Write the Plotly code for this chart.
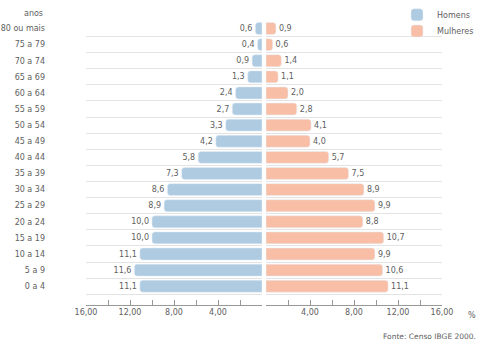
import plotly.graph_objects as go

# bottom to top
categories = ["0 a 4", "5 a 9", "10 a 14", "15 a 19", "20 a 24", "25 a 29", "30 a 34",
              "35 a 39", "40 a 44", "45 a 49", "50 a 54", "55 a 59", "60 a 64", "65 a 69",
              "70 a 74", "75 a 79", "80 ou mais"]
homens = [11.1, 11.6, 11.1, 10.0, 10.0, 8.9, 8.6, 7.3, 5.8, 4.2, 3.3, 2.7, 2.4, 1.3, 0.9, 0.4, 0.6]
mulheres = [11.1, 10.6, 9.9, 10.7, 8.8, 9.9, 8.9, 7.5, 5.7, 4.0, 4.1, 2.8, 2.0, 1.1, 1.4, 0.6, 0.9]
x_ticks = [0, 2, 4, 6, 8, 10, 12, 14, 16]
x_ticktext = ["", "", "4,00", "", "8,00", "", "12,00", "", "16,00"]

pos = list(range(len(categories)))
W, H = 480, 340
FONT = "DejaVu Sans"
TXT = "#606060"

fig = go.Figure()
fig.add_trace(go.Bar(
    y=pos, x=homens, orientation="h", name="Homens", xaxis="x", yaxis="y",
    marker=dict(color="#afcbe1"), width=0.74, legend="legend",
    text=homens, texttemplate="%{x:.1f}", textposition="outside",
    textfont=dict(family=FONT, size=8, color=TXT), cliponaxis=False,
))
fig.add_trace(go.Bar(
    y=pos, x=mulheres, orientation="h", name="Mulheres", xaxis="x2", yaxis="y2",
    marker=dict(color="#f9bfa6"), width=0.74, legend="legend2",
    text=mulheres, texttemplate="%{x:.1f}", textposition="outside",
    textfont=dict(family=FONT, size=8, color=TXT), cliponaxis=False,
))

ydom = [1 - 304 / H, 1 - 13.75 / H]
grid_vals = [p - 0.5 for p in pos]
common_x = dict(tickvals=x_ticks, ticktext=x_ticktext, ticks="inside", ticklen=5,
                tickcolor="#999999", showline=True, linecolor="#999999", showgrid=False,
                zeroline=False, tickfont=dict(family=FONT, size=8, color=TXT),
                automargin=False, fixedrange=True)
common_y = dict(range=[-1.15, 16.5], domain=ydom, showgrid=False, zeroline=False,
                minor=dict(tickvals=grid_vals, showgrid=True, gridcolor="#e3e3e3", gridwidth=1, ticks=""),
                automargin=False)
leg = dict(xanchor="left", yanchor="middle", bgcolor="rgba(0,0,0,0)", borderwidth=0,
           font=dict(family=FONT, size=8, color=TXT), itemwidth=30)

fig.update_layout(
    width=W, height=H, margin=dict(l=0, r=0, t=0, b=0),
    paper_bgcolor="white", plot_bgcolor="white",
    separators=",.", barcornerradius=3, showlegend=True,
    font=dict(family=FONT, size=8, color=TXT),
    xaxis=dict(range=[16, 0], domain=[86 / W, 262 / W], anchor="y", **common_x),
    xaxis2=dict(range=[0, 16], domain=[266 / W, 442 / W], anchor="y2", **common_x),
    yaxis=dict(anchor="x", tickvals=pos, ticktext=categories, ticks="", ticklabelstandoff=40,
               tickfont=dict(family=FONT, size=8, color=TXT), **common_y),
    yaxis2=dict(anchor="x2", matches="y", showticklabels=False, ticks="", **common_y),
    legend=dict(x=397 / W, y=1 - 8 / H, **leg),
    legend2=dict(x=397 / W, y=1 - 24.5 / H, **leg),
    annotations=[
        dict(text="anos", x=45 / W, y=1 - 7 / H, xref="paper", yref="paper",
             xanchor="right", yanchor="middle", showarrow=False, font=dict(family=FONT, size=8, color=TXT)),
        dict(text="%", x=472 / W, y=1 - 315 / H, xref="paper", yref="paper",
             xanchor="center", yanchor="middle", showarrow=False, font=dict(family=FONT, size=8, color=TXT)),
        dict(text="Fonte: Censo IBGE 2000.", x=478 / W, y=1 - 336 / H, xref="paper", yref="paper",
             xanchor="right", yanchor="middle", showarrow=False, font=dict(family=FONT, size=7.5, color=TXT)),
    ],
)

fig.write_html("out.html")
